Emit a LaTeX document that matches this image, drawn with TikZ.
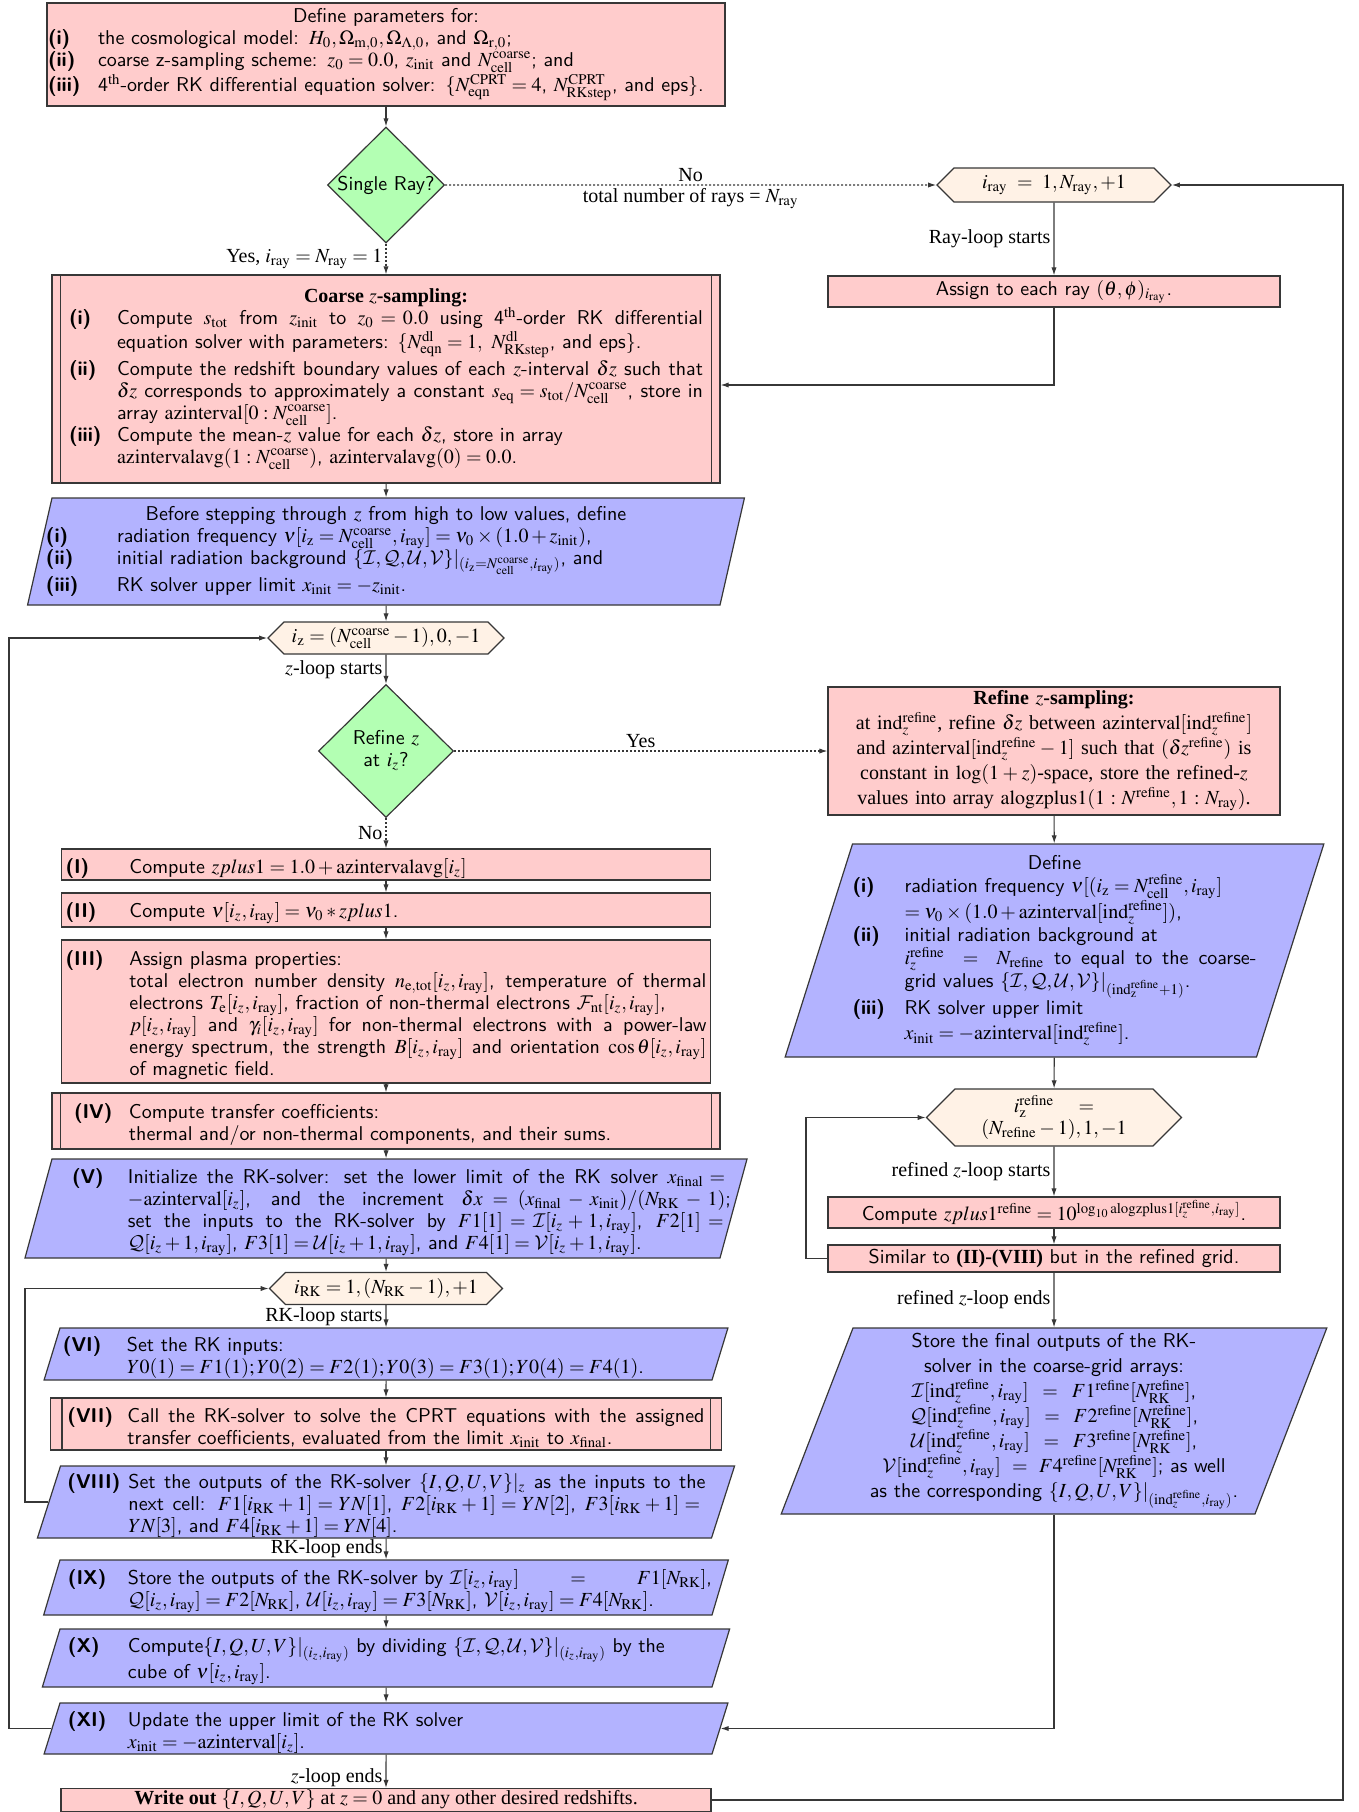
\documentclass[tikz,border=0pt]{standalone}
\usepackage{mathptmx}
\usepackage[no-math]{fontspec}
\setmainfont{Liberation Serif}
\DeclareMathAlphabet{\mathcal}{OMS}{cmsy}{m}{n}
\usetikzlibrary{shapes.geometric,shapes.symbols,arrows.meta,calc}
\newcommand{\lab}[2]{\par\noindent\hangindent=#1\hangafter=1\makebox[#1][l]{\sffamily\bfseries #2}\ignorespaces}
\newcommand{\rr}[1]{\mathrm{#1}}
\definecolor{pinkf}{RGB}{255,204,204}
\definecolor{bluef}{RGB}{179,179,255}
\definecolor{greenf}{RGB}{179,255,179}
\definecolor{hexf}{RGB}{255,242,230}
\definecolor{edge}{RGB}{55,55,55}
\tikzset{
  box/.style={draw=edge, line width=0.6pt, inner sep=0pt, font=\sffamily\fontsize{10}{11}\selectfont},
  pinkbox/.style={box, rectangle, fill=pinkf},
  para/.style={box, trapezium, trapezium stretches body=true, fill=bluef},
  hexa/.style={box, signal, signal to=east and west, signal pointer angle=90, fill=hexf, font=\rmfamily\fontsize{10}{11}\selectfont},
  deci/.style={box, diamond, aspect=1, fill=greenf},
  arr/.style={draw=edge, line width=0.55pt, -{Latex[length=4pt,width=2.6pt]}},
  dotarr/.style={arr, dash pattern=on 1pt off 1pt},
  lbl/.style={font=\rmfamily\fontsize{10}{11}\selectfont, inner sep=1.5pt},
  inline/.style={draw=edge, line width=0.6pt}
}
\begin{document}
\begin{tikzpicture}[x=0.5pt, y=-0.5pt]
\useasboundingbox (0,0) rectangle (1359,1812);
\coordinate (xl1) at (9,0);
\coordinate (xl2) at (25,0);
\coordinate (xr1) at (806,0);
\coordinate (xr2) at (1343,0);

% ---------- top ----------
\node[pinkbox, minimum width=339pt, minimum height=51.5pt, text width=338pt, align=left] (top) at (386,54.5) {%
{\centering Define parameters for:\par}
\lab{25pt}{(i)}the cosmological model: $H_0, \Omega_{\rm m,0}, \Omega_{\Lambda,0}$, and $\Omega_{\rm r,0}$;\par
\lab{25pt}{(ii)}coarse z-sampling scheme: $z_0 = 0.0$, $z_{\rm init}$ and $N^{\rm coarse}_{\rm cell}$; and\par
\lab{25pt}{(iii)}4$^{\rm th}$-order RK differential equation solver: $\{N^{\rm CPRT}_{\rm eqn} = 4$, $N^{\rm CPRT}_{\rm RKstep}$, and eps$\}$.\par};

\node[deci, minimum width=58.5pt, minimum height=58pt] (d1) at (386,185) {Single Ray?};

\node[hexa, minimum width=117pt, minimum height=17pt] (iray) at (1054,185) {$i_{\rm ray}\ =\ 1, N_{\rm ray}, +1$};

\node[pinkbox, minimum width=226pt, minimum height=15.5pt] (assign) at (1054,291.5) {Assign to each ray $(\theta, \phi)_{i_{\rm ray}}$.};

% ---------- coarse ----------
\node[pinkbox, minimum width=334pt, minimum height=104pt, text width=317pt, align=justify] (coarse) at (386,379) {%
{\centering\rmfamily\bfseries Coarse $z$-sampling:\par}
\lab{24pt}{(i)}Compute $s_{\rm tot}$ from $z_{\rm init}$ to $z_0 = 0.0$ using 4$^{\rm th}$-order RK differential\linebreak equation solver with parameters: $\{N^{\rm dl}_{\rm eqn} = 1,\ N^{\rm dl}_{\rm RKstep}$, and eps$\}$.\par
\lab{24pt}{(ii)}Compute the redshift boundary values of each $z$-interval $\delta z$ such that\linebreak $\delta z$ corresponds to approximately a constant $s_{\rm eq} = s_{\rm tot}/N^{\rm coarse}_{\rm cell}$, store in\linebreak array $\rr{azinterval}[0:N^{\rm coarse}_{\rm cell}]$.\par
\lab{24pt}{(iii)}Compute the mean-$z$ value for each $\delta z$, store in array\newline $\rr{azintervalavg}(1:N^{\rm coarse}_{\rm cell})$, $\rr{azintervalavg}(0) = 0.0$.\par};

% ---------- before ----------
\node[para, trapezium left angle=74.8, trapezium right angle=105.2, text width=334pt, minimum height=53.5pt, align=left] (before) at (386,551.5) {%
{\centering Before stepping through $z$ from high to low values, define\par}
\leftskip=-3pt
\lab{35.5pt}{(i)}radiation frequency $\nu[i_{\rm z} = N^{\rm coarse}_{\rm cell}, i_{\rm ray}] = \nu_0 \times (1.0 + z_{\rm init})$,\par
\lab{35.5pt}{(ii)}initial radiation background $\{\mathcal{I},\mathcal{Q},\mathcal{U},\mathcal{V}\}|_{(i_{\rm z}=N^{\rm coarse}_{\rm cell}, i_{\rm ray})}$, and\par
\lab{35.5pt}{(iii)}RK solver upper limit $x_{\rm init} = -z_{\rm init}$.\par};

\node[hexa, minimum width=118pt, minimum height=16pt] (iz) at (386,638) {$i_{\rm z} = (N^{\rm coarse}_{\rm cell} - 1), 0, -1$};

\node[deci, minimum width=67.5pt, minimum height=66.5pt, align=center] (d2) at (386,751) {Refine $z$\\at $i_z$?};

% ---------- refine box ----------
\node[pinkbox, minimum width=226pt, minimum height=64pt, text width=222pt, align=center, font=\rmfamily\fontsize{10}{12.5}\selectfont] (refbox) at (1054,751) {%
\textbf{Refine $z$-sampling:}\\
at $\rr{ind}^{\rm refine}_z$, refine $\delta z$ between $\rr{azinterval}[\rr{ind}^{\rm refine}_z]$\\
and $\rr{azinterval}[\rr{ind}^{\rm refine}_z - 1]$ such that $(\delta z^{\rm refine})$ is\\
constant in $\log(1+z)$-space, store the refined-$z$\\
values into array $\rr{alogzplus1}(1:N^{\rm refine}, 1:N_{\rm ray})$.};

% ---------- define ----------
\node[para, trapezium left angle=70.6, trapezium right angle=109.4, text width=202pt, minimum height=106.5pt, align=justify, font=\sffamily\fontsize{10}{11.5}\selectfont] (define) at (1054.5,950.5) {%
{\centering Define\par}
\lab{26pt}{(i)}radiation frequency $\nu[(i_{\rm z} = N^{\rm refine}_{\rm cell}, i_{\rm ray}]$\newline $= \nu_0\times(1.0 + \rr{azinterval}[\rr{ind}^{\rm refine}_z])$,\par
\lab{26pt}{(ii)}initial radiation background at\newline $i^{\rm refine}_z \;\;=\;\; N_{\rm refine}$ to equal to the coarse-\linebreak grid values $\{\mathcal{I},\mathcal{Q},\mathcal{U},\mathcal{V}\}|_{(\rr{ind}^{\rm refine}_{\rm z}+1)}$.\par
\lab{26pt}{(iii)}RK solver upper limit\newline $x_{\rm init} = -\rr{azinterval}[\rr{ind}^{\rm refine}_z]$.\par};

\node[hexa, minimum width=127.5pt, minimum height=28.5pt, align=center] (hexr) at (1054,1117.5) {$i^{\rm refine}_{\rm z}\quad=$\\$(N_{\rm refine}-1), 1, -1$};

\node[pinkbox, minimum width=226pt, minimum height=15.5pt] (comp) at (1054,1212.5) {Compute $zplus1^{\rm refine} = 10^{\log_{10}\rr{alogzplus1}[i_z^{\rm refine}, i_{\rm ray}]}$.};

\node[pinkbox, minimum width=226pt, minimum height=13.5pt] (sim) at (1054,1258.5) {Similar to \textbf{\rmfamily (II)-(VIII)} but in the refined grid.};

\node[para, trapezium left angle=67.8, trapezium right angle=112.2, text width=201pt, minimum height=93pt, align=center, font=\sffamily\fontsize{10}{12.5}\selectfont] (store) at (1054,1421) {%
Store the final outputs of the RK-\\solver in the coarse-grid arrays:\\
$\mathcal{I}[\rr{ind}^{\rm refine}_z, i_{\rm ray}] \;=\; F1^{\rm refine}[N^{\rm refine}_{\rm RK}]$,\\
$\mathcal{Q}[\rr{ind}^{\rm refine}_z, i_{\rm ray}] \;=\; F2^{\rm refine}[N^{\rm refine}_{\rm RK}]$,\\
$\mathcal{U}[\rr{ind}^{\rm refine}_z, i_{\rm ray}] \;=\; F3^{\rm refine}[N^{\rm refine}_{\rm RK}]$,\\
$\mathcal{V}[\rr{ind}^{\rm refine}_z, i_{\rm ray}] \;=\; F4^{\rm refine}[N^{\rm refine}_{\rm RK}]$; as well\\
as the corresponding $\{I,Q,U,V\}|_{(\rr{ind}^{\rm refine}_z, i_{\rm ray})}$.};

% ---------- left column ----------
\node[pinkbox, minimum width=324.5pt, minimum height=15.5pt, text width=320.5pt, align=left] (I) at (386,864.5) {\lab{32pt}{(I)}Compute $zplus1 = 1.0 + \rr{azintervalavg}[i_z]$\par};

\node[pinkbox, minimum width=324.5pt, minimum height=17pt, text width=320.5pt, align=left] (II) at (386,910) {\lab{32pt}{(II)}Compute $\nu[i_z, i_{\rm ray}] = \nu_0 * zplus1$.\par};

\node[pinkbox, minimum width=324.5pt, minimum height=71.5pt, text width=320.5pt, align=justify] (III) at (386,1011.5) {\lab{32pt}{(III)}Assign plasma properties:\newline total electron number density $n_{\rm e,tot}[i_z, i_{\rm ray}]$, temperature of thermal\linebreak electrons $T_{\rm e}[i_z, i_{\rm ray}]$, fraction of non-thermal electrons $\mathcal{F}_{\rm nt}[i_z, i_{\rm ray}]$,\newline $p[i_z, i_{\rm ray}]$ and $\gamma_i[i_z, i_{\rm ray}]$ for non-thermal electrons with a power-law\linebreak energy spectrum, the strength $B[i_z, i_{\rm ray}]$ and orientation $\cos\theta[i_z, i_{\rm ray}]$\linebreak of magnetic field.\par};

\node[pinkbox, minimum width=334pt, minimum height=28pt, text width=312pt, align=left] (IV) at (386,1121) {\lab{27.5pt}{(IV)}Compute transfer coefficients:\newline thermal and/or non-thermal components, and their sums.\par};

\node[para, trapezium left angle=74, trapezium right angle=106, text width=334pt, minimum height=49.5pt, align=justify] (V) at (386,1208.5) {\leftskip=10pt\rightskip=-5.5pt
\lab{28pt}{(V)}Initialize the RK-solver: set the lower limit of the RK solver $x_{\rm final} ={}$\linebreak$-\rr{azinterval}[i_z]$, and the increment $\delta x = (x_{\rm final} - x_{\rm init})/(N_{\rm RK} - 1)$;\linebreak set the inputs to the RK-solver by $F1[1] = \mathcal{I}[i_z + 1, i_{\rm ray}]$, $F2[1] ={}$\linebreak$\mathcal{Q}[i_z + 1, i_{\rm ray}]$, $F3[1] = \mathcal{U}[i_z+1, i_{\rm ray}]$, and $F4[1] = \mathcal{V}[i_z + 1, i_{\rm ray}]$.\par};

\node[hexa, minimum width=116.5pt, minimum height=16pt] (iRK) at (386,1288.5) {$i_{\rm RK} = 1, (N_{\rm RK} - 1), +1$};

\node[para, trapezium left angle=72, trapezium right angle=108, text width=326pt, minimum height=26pt, align=left] (VI) at (386,1354) {\leftskip=1.5pt
\lab{32pt}{(VI)}Set the RK inputs:\newline $Y0(1) = F1(1); Y0(2) = F2(1); Y0(3) = F3(1); Y0(4) = F4(1)$.\par};

\node[pinkbox, minimum width=335.5pt, minimum height=26pt, text width=318.5pt, align=justify] (VII) at (386,1424) {\lab{30pt}{(VII)}Call the RK-solver to solve the CPRT equations with the assigned\linebreak transfer coefficients, evaluated from the limit $x_{\rm init}$ to $x_{\rm final}$.\par};

\node[para, trapezium left angle=72, trapezium right angle=108, text width=325.5pt, minimum height=36pt, align=justify] (VIII) at (386,1502) {\leftskip=3.5pt\rightskip=3pt
\lab{30.5pt}{(VIII)}Set the outputs of the RK-solver $\{I,Q,U,V\}|_z$ as the inputs to the\linebreak next cell: $F1[i_{\rm RK}+1] = YN[1]$, $F2[i_{\rm RK}+1] = YN[2]$, $F3[i_{\rm RK}+1] ={}$\linebreak$YN[3]$, and $F4[i_{\rm RK}+1] = YN[4]$.\par};

\node[para, trapezium left angle=72, trapezium right angle=108, text width=326pt, minimum height=27.5pt, align=justify] (IX) at (386,1587.5) {\leftskip=4pt
\lab{30pt}{(IX)}Store the outputs of the RK-solver by $\mathcal{I}[i_z, i_{\rm ray}]$\hfill$=$\hfill$F1[N_{\rm RK}]$,\newline $\mathcal{Q}[i_z, i_{\rm ray}] = F2[N_{\rm RK}]$, $\mathcal{U}[i_z, i_{\rm ray}] = F3[N_{\rm RK}]$, $\mathcal{V}[i_z, i_{\rm ray}] = F4[N_{\rm RK}]$.\par};

\node[para, trapezium left angle=72, trapezium right angle=108, text width=326pt, minimum height=29pt, align=left] (X) at (386,1658) {\leftskip=4pt
\lab{30pt}{(X)}Compute$\{I,Q,U,V\}|_{(i_z,i_{\rm ray})}$ by dividing $\{\mathcal{I},\mathcal{Q},\mathcal{U},\mathcal{V}\}|_{(i_z,i_{\rm ray})}$ by the\newline cube of $\nu[i_z, i_{\rm ray}]$.\par};

\node[para, trapezium left angle=72, trapezium right angle=108, text width=326pt, minimum height=25.5pt, align=left] (XI) at (386,1728.5) {\leftskip=4pt
\lab{30pt}{(XI)}Update the upper limit of the RK solver\newline $x_{\rm init} = -\rr{azinterval}[i_z]$.\par};

\node[pinkbox, minimum width=325pt, minimum height=11.5pt, font=\rmfamily\fontsize{10}{11}\selectfont] (wo) at (386,1800) {\textbf{Write out} $\{I,Q,U,V\}$ at $z = 0$ and any other desired redshifts.};

% inner lines of predefined-process boxes
\foreach \n/\d in {coarse/4.5pt, IV/4.5pt, VII/6pt} {
  \draw[inline] ([xshift=\d]\n.north west) -- ([xshift=\d]\n.south west);
  \draw[inline] ([xshift=-\d]\n.north east) -- ([xshift=-\d]\n.south east);
}

% ---------- connectors ----------
\draw[arr] (top) -- (d1);
\draw[dotarr] (d1) -- node[lbl, above]{No} node[lbl, below]{total number of rays = $N_{\rm ray}$} (iray);
\draw[dotarr] (d1) -- node[lbl, left]{Yes, $i_{\rm ray} = N_{\rm ray} = 1$} (coarse);
\draw[arr] (iray) -- node[lbl, left]{Ray-loop starts} (assign);
\draw[arr] (assign.south) |- ([yshift=-3pt]coarse.east);
\draw[arr] (coarse) -- (before);
\draw[arr] (before) -- (iz);
\draw[arr] (iz) -- node[lbl, left]{$z$-loop starts} (d2);
\draw[dotarr] (d2) -- node[lbl, above]{Yes} (refbox);
\draw[dotarr] (d2) -- node[lbl, left]{No} (I);
\draw[arr] (I) -- (II);
\draw[arr] (II) -- (III);
\draw[arr] (III) -- (IV);
\draw[arr] (IV) -- (V);
\draw[arr] (V) -- (iRK);
\draw[arr] (iRK) -- node[lbl, left]{RK-loop starts} (VI);
\draw[arr] (VI) -- (VII);
\draw[arr] (VII) -- (VIII);
\draw[arr] (VIII) -- node[lbl, left]{RK-loop ends} (IX);
\draw[arr] (IX) -- (X);
\draw[arr] (X) -- (XI);
\draw[arr] (XI) -- node[lbl, left, pos=0.7]{$z$-loop ends} (wo);
\draw[arr] (VIII.west) -| (iRK.west -| xl2) -- (iRK.west);
\draw[arr] (XI.west) -| (iz.west -| xl1) -- (iz.west);

\draw[arr] (refbox) -- (define);
\draw[arr] (define) -- (hexr);
\draw[arr] (hexr) -- node[lbl, left]{refined $z$-loop starts} (comp);
\draw[arr] (comp) -- (sim);
\draw[arr] (sim) -- node[lbl, left]{refined $z$-loop ends} (store);
\draw[arr] (sim.west) -| (hexr.west -| xr1) -- (hexr.west);
\draw[arr] (store.south) |- (XI.east);
\draw[arr] (wo.east) -| (iray.east -| xr2) -- (iray.east);
\end{tikzpicture}
\end{document}
